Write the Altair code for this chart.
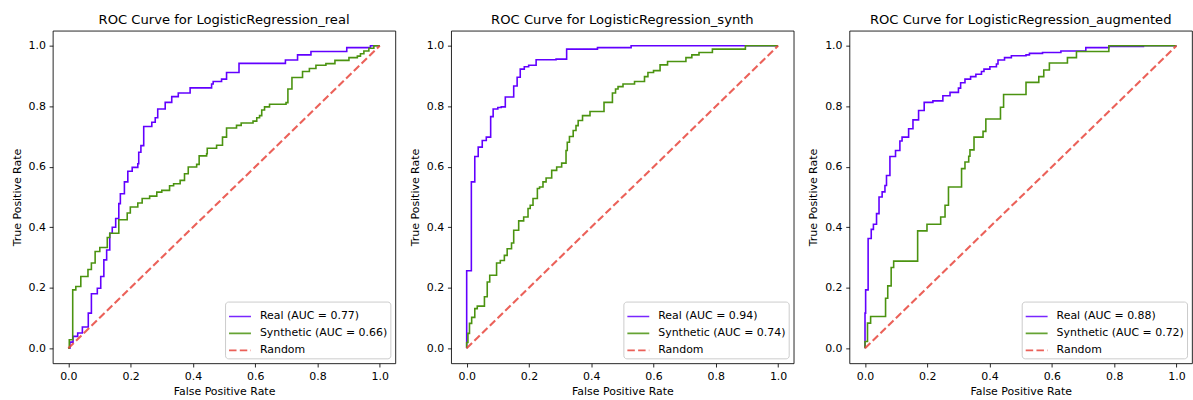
import altair as alt
import pandas as pd

FONT = "DejaVu Sans"
BLUE = "#6200ff"
GREEN = "#4b9310"
RED = "#e8453c"

TITLES = [
    "ROC Curve for LogisticRegression_real",
    "ROC Curve for LogisticRegression_synth",
    "ROC Curve for LogisticRegression_augmented",
]
AUC_REAL = ["0.77", "0.94", "0.88"]
AUC_SYNTH = ["0.66", "0.74", "0.72"]
TICKS = [0.0, 0.2, 0.4, 0.6, 0.8, 1.0]

# Step curves: x position of each vertical jump and the TPR level after it
p1_real_fpr = [0.005, 0.015, 0.03, 0.045, 0.064, 0.074, 0.093, 0.104, 0.114, 0.123, 0.133, 0.141,
               0.152, 0.162, 0.167, 0.18, 0.191, 0.205, 0.223, 0.226, 0.233, 0.242, 0.268, 0.279,
               0.287, 0.311, 0.332, 0.353, 0.391, 0.46, 0.465, 0.492, 0.508, 0.548, 0.697, 0.736,
               0.779, 0.894, 0.97]
p1_real_tpr = [0.02, 0.039, 0.05, 0.07, 0.116, 0.18, 0.198, 0.237, 0.292, 0.325, 0.38, 0.40,
               0.429, 0.478, 0.511, 0.55, 0.585, 0.598, 0.61, 0.648, 0.67, 0.733, 0.747, 0.762,
               0.791, 0.813, 0.832, 0.844, 0.861, 0.874, 0.882, 0.89, 0.912, 0.942, 0.953, 0.97,
               0.981, 0.994, 1.0]
p1_syn_fpr = [0.003, 0.014, 0.024, 0.040, 0.063, 0.074, 0.086, 0.101, 0.125, 0.133, 0.162, 0.189,
              0.199, 0.223, 0.237, 0.261, 0.284, 0.30, 0.325, 0.338, 0.359, 0.373, 0.385, 0.412,
              0.42, 0.444, 0.446, 0.476, 0.495, 0.508, 0.54, 0.555, 0.593, 0.605, 0.614, 0.621,
              0.63, 0.646, 0.699, 0.705, 0.718, 0.752, 0.774, 0.795, 0.827, 0.856, 0.901, 0.928,
              0.938, 0.949, 0.965, 0.981]
p1_syn_tpr = [0.028, 0.193, 0.204, 0.237, 0.26, 0.282, 0.32, 0.333, 0.366, 0.38, 0.425, 0.447,
              0.467, 0.48, 0.495, 0.503, 0.516, 0.522, 0.537, 0.544, 0.555, 0.577, 0.599, 0.608,
              0.636, 0.643, 0.661, 0.671, 0.698, 0.728, 0.737, 0.745, 0.751, 0.762, 0.769, 0.788,
              0.798, 0.807, 0.812, 0.857, 0.895, 0.915, 0.925, 0.936, 0.941, 0.952, 0.961, 0.966,
              0.974, 0.983, 0.992, 1.0]

p2_real_fpr = [0.0, 0.015, 0.026, 0.037, 0.05, 0.063, 0.077, 0.085, 0.1, 0.111, 0.124, 0.151,
               0.162, 0.172, 0.185, 0.199, 0.223, 0.287, 0.321, 0.42, 0.528]
p2_real_tpr = [0.256, 0.55, 0.634, 0.665, 0.687, 0.698, 0.766, 0.791, 0.796, 0.798, 0.831, 0.867,
               0.896, 0.923, 0.931, 0.936, 0.954, 0.956, 0.989, 0.994, 1.0]
p2_syn_fpr = [0.0, 0.004, 0.009, 0.016, 0.026, 0.034, 0.057, 0.066, 0.074, 0.096, 0.108, 0.121,
              0.13, 0.144, 0.151, 0.167, 0.183, 0.197, 0.204, 0.213, 0.227, 0.234, 0.245, 0.255,
              0.273, 0.289, 0.305, 0.319, 0.323, 0.33, 0.342, 0.351, 0.358, 0.372, 0.396, 0.441,
              0.468, 0.478, 0.486, 0.502, 0.539, 0.571, 0.582, 0.60, 0.621, 0.645, 0.704, 0.723,
              0.746, 0.789, 0.895]
p2_syn_tpr = [0.019, 0.049, 0.082, 0.102, 0.131, 0.139, 0.17, 0.219, 0.241, 0.282, 0.29, 0.307,
              0.329, 0.348, 0.39, 0.421, 0.434, 0.462, 0.473, 0.495, 0.528, 0.533, 0.55, 0.563,
              0.588, 0.599, 0.612, 0.654, 0.681, 0.70, 0.72, 0.736, 0.753, 0.769, 0.783, 0.813,
              0.844, 0.857, 0.865, 0.874, 0.882, 0.898, 0.912, 0.918, 0.937, 0.948, 0.961, 0.97,
              0.978, 0.989, 1.0]

p3_real_fpr = [0.0, 0.002, 0.01, 0.02, 0.027, 0.037, 0.045, 0.055, 0.064, 0.069, 0.08, 0.098,
               0.112, 0.119, 0.14, 0.154, 0.172, 0.19, 0.218, 0.25, 0.273, 0.3, 0.307, 0.321,
               0.339, 0.356, 0.374, 0.382, 0.401, 0.422, 0.427, 0.448, 0.47, 0.517, 0.528, 0.57,
               0.629, 0.709, 0.783, 0.894]
p3_real_tpr = [0.116, 0.193, 0.363, 0.393, 0.41, 0.445, 0.5, 0.517, 0.538, 0.571, 0.634, 0.654,
               0.685, 0.698, 0.726, 0.755, 0.786, 0.813, 0.818, 0.835, 0.846, 0.86, 0.878, 0.89,
               0.898, 0.906, 0.915, 0.923, 0.931, 0.94, 0.953, 0.961, 0.967, 0.97, 0.975, 0.978,
               0.983, 0.994, 0.998, 1.0]
p3_syn_fpr = [0.0, 0.008, 0.018, 0.066, 0.073, 0.084, 0.092, 0.169, 0.199, 0.243, 0.257, 0.268,
              0.31, 0.321, 0.333, 0.337, 0.35, 0.379, 0.388, 0.435, 0.445, 0.517, 0.558, 0.574,
              0.592, 0.65, 0.679, 0.783]
p3_syn_tpr = [0.022, 0.083, 0.105, 0.165, 0.206, 0.267, 0.288, 0.388, 0.41, 0.434, 0.473, 0.533,
              0.594, 0.616, 0.635, 0.656, 0.698, 0.717, 0.758, 0.797, 0.839, 0.879, 0.898, 0.92,
              0.943, 0.961, 0.981, 1.0]

RANDOM_X = [0.0, 1.0]
RANDOM_Y = [0.0, 1.0]

PANELS = [
    (p1_real_fpr, p1_real_tpr, p1_syn_fpr, p1_syn_tpr),
    (p2_real_fpr, p2_real_tpr, p2_syn_fpr, p2_syn_tpr),
    (p3_real_fpr, p3_real_tpr, p3_syn_fpr, p3_syn_tpr),
]


def stairs(fx, ty):
    pts = [(0.0, 0.0)]
    prev = 0.0
    for x, y in zip(fx, ty):
        pts.append((x, prev))
        pts.append((x, y))
        prev = y
    pts.append((1.0, prev))
    return pts


def make_panel(k):
    rfx, rty, sfx, sty = PANELS[k]
    lab_r = f"Real (AUC = {AUC_REAL[k]})"
    lab_s = f"Synthetic (AUC = {AUC_SYNTH[k]})"
    lab_n = "Random"
    dom = [lab_r, lab_s, lab_n]
    rows = []
    for i, (x, y) in enumerate(stairs(rfx, rty)):
        rows.append({"x": x, "y": y, "s": lab_r, "o": i})
    for i, (x, y) in enumerate(stairs(sfx, sty)):
        rows.append({"x": x, "y": y, "s": lab_s, "o": i})
    for i, (x, y) in enumerate(zip(RANDOM_X, RANDOM_Y)):
        rows.append({"x": x, "y": y, "s": lab_n, "o": i})
    df = pd.DataFrame(rows)

    leg = alt.Legend(title=None, orient="bottom-right", offset=5)
    base = alt.Chart(df).encode(
        x=alt.X("x:Q", scale=alt.Scale(domain=[-0.05, 1.05], nice=False, zero=False),
                axis=alt.Axis(values=TICKS, format=".1f", title="False Positive Rate")),
        y=alt.Y("y:Q", scale=alt.Scale(domain=[-0.05, 1.05], nice=False, zero=False),
                axis=alt.Axis(values=TICKS, format=".1f", title="True Positive Rate")),
        color=alt.Color("s:N", scale=alt.Scale(domain=dom, range=[BLUE, GREEN, RED]),
                        legend=leg),
        strokeDash=alt.StrokeDash("s:N", scale=alt.Scale(domain=dom, range=[[1, 0], [1, 0], [7.5, 3.3]]),
                                  legend=leg),
        order=alt.Order("o:Q"),
    )
    curves = base.transform_filter(alt.datum.s != lab_n).mark_line(strokeWidth=1.6)
    rnd = base.transform_filter(alt.datum.s == lab_n).mark_line(strokeWidth=2.1, opacity=0.85)
    return alt.layer(curves, rnd).properties(
        width=344, height=334,
        title=alt.Title(TITLES[k], anchor="middle"),
    )


chart = alt.hconcat(*[make_panel(k) for k in range(3)], spacing=12).resolve_scale(
    color="independent", strokeDash="independent"
).resolve_legend(
    color="independent", strokeDash="independent"
).properties(
    padding={"left": 10, "top": 11, "right": 0, "bottom": 0}
).configure_view(
    stroke="black", strokeWidth=0.85
).configure_axis(
    domain=False, grid=False, tickColor="black", tickWidth=0.85, tickSize=3.7,
    labelFont=FONT, labelFontSize=11, labelColor="black", labelPadding=3.7,
    titleFont=FONT, titleFontSize=11, titleFontWeight="normal", titleColor="black",
).configure_axisY(
    titlePadding=6
).configure_axisX(
    titlePadding=4
).configure_title(
    font=FONT, fontSize=13.2, fontWeight="normal", color="black", offset=3.6,
    baseline="alphabetic"
).configure_legend(
    orient="bottom-right", offset=5, padding=3, strokeColor="#cccccc",
    fillColor="rgba(255,255,255,0.8)", cornerRadius=3,
    labelFont=FONT, labelFontSize=11, labelColor="black", labelOffset=8,
    symbolType="stroke", symbolSize=484, symbolStrokeWidth=1.7, rowPadding=-1.5,
)

chart.save("out.html", embed_options={"renderer": "svg", "actions": False})
